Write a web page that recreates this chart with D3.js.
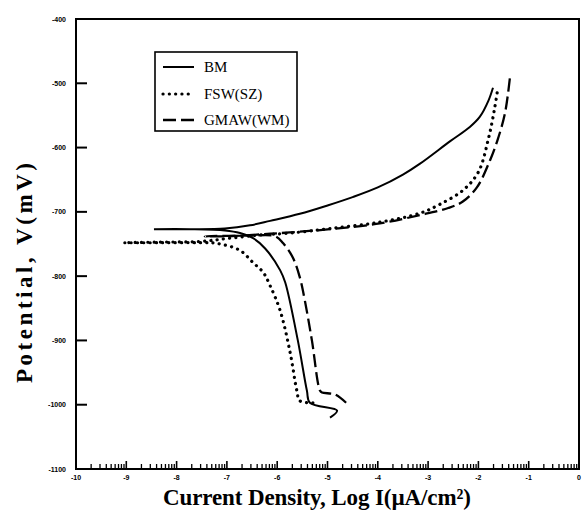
<!DOCTYPE html>
<html lang="en">
<head>
    <meta charset="UTF-8">
    <title>Polarization curves</title>
    <style>
        body { margin: 0; background: #fff; }
        .tick-label { font: bold 7px "Liberation Sans", Arial, sans-serif; fill: #000; }
        .axis-title { font: bold 23px "Liberation Serif", "Times New Roman", serif; fill: #000; }
        .legend text { font: 15px "Liberation Serif", "Times New Roman", serif; fill: #000; }
        .curve { fill: none; stroke: #000; }
    </style>
</head>
<body>
    <svg id="chart" width="587" height="515"></svg>
    <script src="https://cdn.jsdelivr.net/npm/d3@7/dist/d3.min.js"></script>
    <script>
        // tick values
        const xTicks = [-10, -9, -8, -7, -6, -5, -4, -3, -2, -1, 0];
        const xTickLabels = ["-10", "-9", "-8", "-7", "-6", "-5", "-4", "-3", "-2", "-1", "0"];
        const yTicks = [-400, -500, -600, -700, -800, -900, -1000, -1100];

        // series: [log I, potential mV], in scan order (cathodic end -> Ecorr -> anodic end)
        const bm = [
            [-4.95, -1020], [-4.81, -1009], [-5.35, -997], [-5.41, -978], [-5.59, -900],
            [-5.84, -810], [-5.94, -791], [-6.24, -757], [-6.48, -741], [-6.74, -733],
            [-7.04, -729], [-7.73, -727], [-8.45, -727], [-7.73, -727], [-7.04, -726],
            [-6.54, -721], [-6.14, -714], [-5.55, -703], [-5.0, -690], [-4.5, -677],
            [-4.0, -662], [-3.5, -642], [-3.16, -625], [-2.56, -590], [-2.17, -568],
            [-1.97, -552], [-1.80, -527], [-1.71, -507]
        ];
        const fsw = [
            [-5.29, -997], [-5.55, -994], [-5.61, -978], [-5.75, -916], [-5.94, -854],
            [-6.14, -815], [-6.28, -794], [-6.48, -779], [-6.74, -760], [-7.20, -749],
            [-7.53, -748], [-8.33, -748], [-9.05, -748], [-8.33, -747], [-7.53, -746],
            [-6.94, -741], [-6.34, -736], [-5.75, -733], [-4.95, -726], [-3.96, -716],
            [-3.16, -702], [-2.76, -688], [-2.30, -666], [-2.00, -638], [-1.80, -586],
            [-1.68, -540], [-1.61, -506]
        ];
        const gmaw = [
            [-4.63, -997], [-4.85, -984], [-5.11, -981], [-5.15, -978], [-5.31, -900],
            [-5.45, -838], [-5.55, -802], [-5.69, -771], [-5.88, -749], [-6.04, -738],
            [-6.60, -737], [-7.44, -738], [-6.94, -738], [-6.34, -735], [-5.75, -732],
            [-4.95, -727], [-3.96, -718], [-3.16, -705], [-2.60, -694], [-2.31, -684],
            [-2.03, -662], [-1.77, -620], [-1.61, -586], [-1.47, -546], [-1.37, -489]
        ];

        const seriesNames = ["BM", "FSW(SZ)", "GMAW(WM)"];
        const seriesData = [bm, fsw, gmaw];

        const styles = [
            { width: 2, dash: null, cap: "butt" },
            { width: 3.2, dash: "0.1 6.2", cap: "round" },
            { width: 2.3, dash: "13 5", cap: "butt" }
        ];

        const svg = d3.select("#chart");
        const x = d3.scaleLinear().domain([-10, 0]).range([76, 579]);
        const y = d3.scaleLinear().domain([-1100, -400]).range([469, 19]);

        // frame
        svg.append("rect")
            .attr("x", x(-10)).attr("y", y(-400))
            .attr("width", x(0) - x(-10)).attr("height", y(-1100) - y(-400))
            .attr("fill", "none").attr("stroke", "#000").attr("stroke-width", 2);

        // left axis: inward ticks
        svg.append("g").selectAll("line")
            .data(yTicks)
            .enter().append("line")
            .attr("x1", x(-10)).attr("x2", x(-10) + 11)
            .attr("y1", d => y(d)).attr("y2", d => y(d))
            .attr("stroke", "#000").attr("stroke-width", 2);

        svg.append("g").selectAll("text")
            .data(yTicks)
            .enter().append("text")
            .attr("class", "tick-label")
            .attr("x", 66).attr("y", d => y(d) + 2.5)
            .attr("text-anchor", "end")
            .text(d => d);

        // bottom axis: log minor ticks inside each decade
        const minor = [];
        xTicks.slice(0, -1).forEach(n => {
            for (let k = 2; k <= 9; k++) minor.push(n + Math.log10(k));
        });
        svg.append("g").selectAll("line")
            .data(minor)
            .enter().append("line")
            .attr("x1", d => x(d)).attr("x2", d => x(d))
            .attr("y1", y(-1100)).attr("y2", y(-1100) - 5)
            .attr("stroke", "#000").attr("stroke-width", 1.3);
        svg.append("g").selectAll("line")
            .data(xTicks)
            .enter().append("line")
            .attr("x1", d => x(d)).attr("x2", d => x(d))
            .attr("y1", y(-1100)).attr("y2", y(-1100) - 8)
            .attr("stroke", "#000").attr("stroke-width", 1.6);

        svg.append("g").selectAll("text")
            .data(xTicks)
            .enter().append("text")
            .attr("class", "tick-label")
            .attr("x", d => x(d)).attr("y", 480)
            .attr("text-anchor", "middle")
            .text((d, i) => xTickLabels[i]);

        // curves
        const line = d3.line()
            .x(d => x(d[0]))
            .y(d => y(d[1]))
            .curve(d3.curveCatmullRom.alpha(0.5));

        seriesData.forEach((data, i) => {
            svg.append("path")
                .datum(data)
                .attr("class", "curve")
                .attr("d", line)
                .attr("stroke-width", styles[i].width)
                .attr("stroke-dasharray", styles[i].dash)
                .attr("stroke-linecap", styles[i].cap);
        });

        // legend
        const legend = svg.append("g").attr("class", "legend");
        legend.append("rect")
            .attr("x", 155).attr("y", 52).attr("width", 142).attr("height", 79)
            .attr("fill", "#fff").attr("stroke", "#000").attr("stroke-width", 1.6);
        const legendY = [67, 94, 120];
        seriesNames.forEach((name, i) => {
            legend.append("line")
                .attr("x1", 163).attr("x2", 194)
                .attr("y1", legendY[i]).attr("y2", legendY[i])
                .attr("stroke", "#000")
                .attr("stroke-width", styles[i].width)
                .attr("stroke-dasharray", styles[i].dash)
                .attr("stroke-linecap", styles[i].cap);
            legend.append("text")
                .attr("x", 204).attr("y", legendY[i] + 5)
                .text(name);
        });

        // axis titles
        svg.append("text")
            .attr("class", "axis-title")
            .attr("transform", "translate(32,273) rotate(-90)")
            .attr("text-anchor", "middle")
            .attr("textLength", 220)
            .text("Potential, V(mV)");

        svg.append("text")
            .attr("class", "axis-title")
            .attr("x", 317).attr("y", 505)
            .attr("text-anchor", "middle")
            .attr("textLength", 308)
            .text("Current Density, Log I(\u00b5A/cm\u00b2)");
    </script>
</body>
</html>
